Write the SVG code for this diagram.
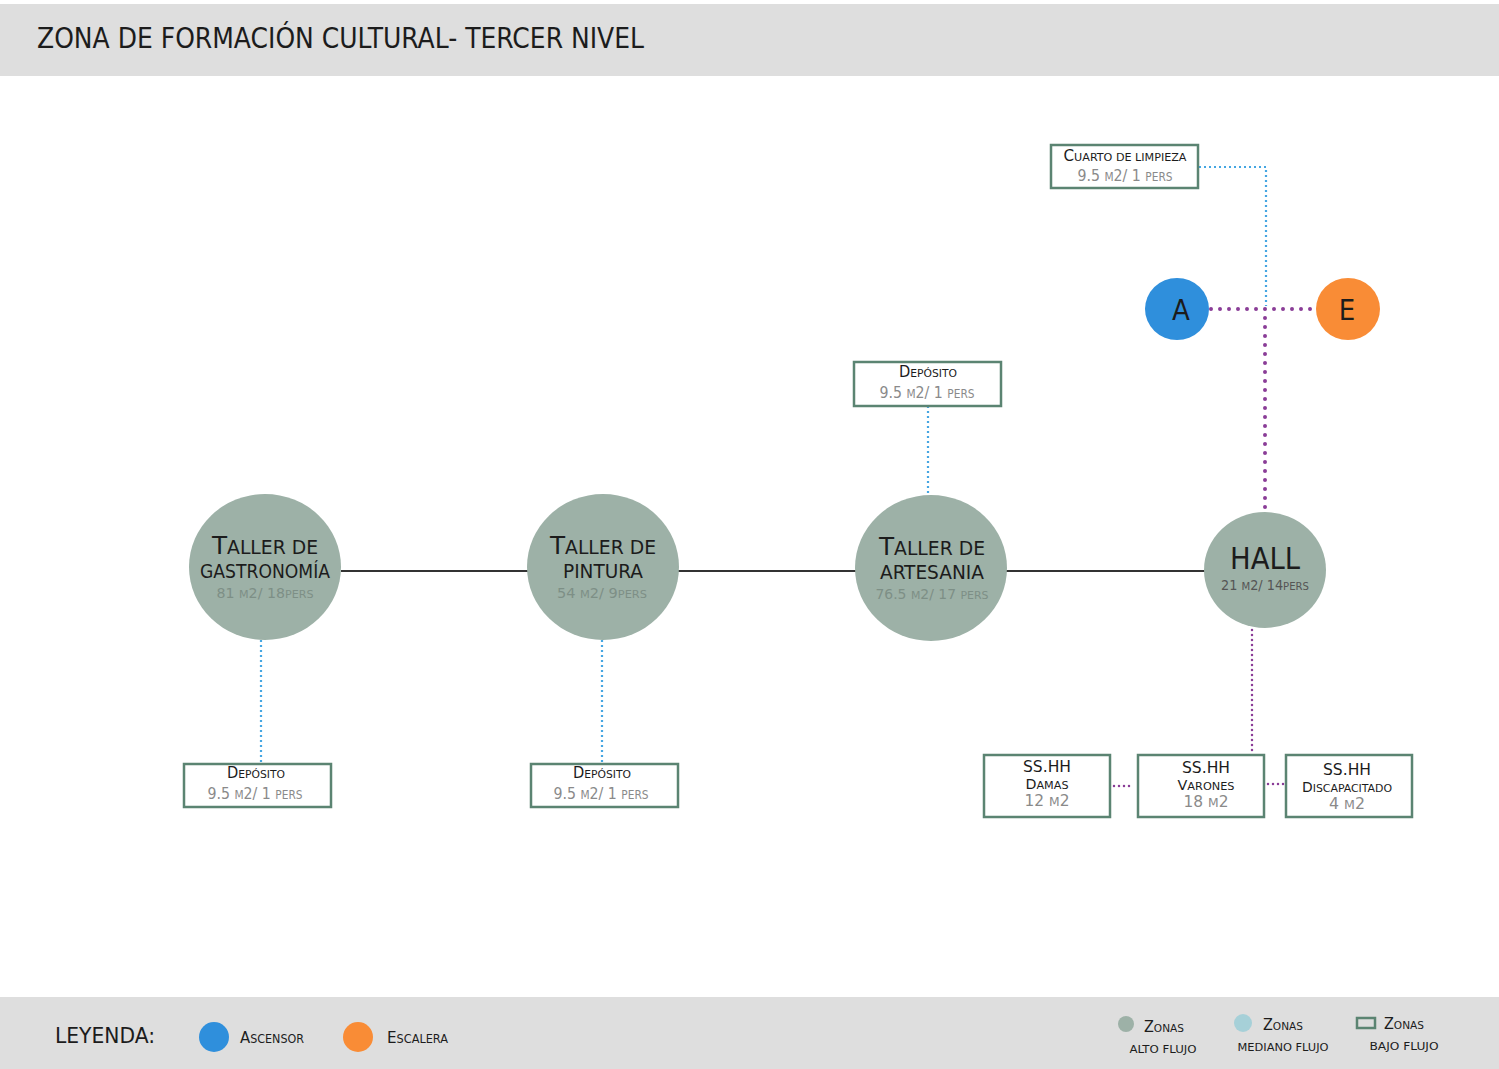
<svg xmlns="http://www.w3.org/2000/svg" width="1499" height="1069" viewBox="0 0 1499 1069">
<style>
text{font-family:"DejaVu Sans Condensed","DejaVu Sans","Liberation Sans",sans-serif;fill:#1c1c1c}
.band{fill:#dedede}
.zone{fill:#9db1a7}
.box{fill:#fff;stroke:#5b8472;stroke-width:2.5}
.main{stroke:#333;stroke-width:2;fill:none}
.blue{stroke:#45a6e2;stroke-width:2.2;stroke-dasharray:2 3;fill:none}
.purple{stroke:#8a3d97;stroke-width:4;stroke-linecap:round;stroke-dasharray:0 9;fill:none}
.purple2{stroke:#8a3d97;stroke-width:2.5;stroke-linecap:round;stroke-dasharray:0 5;fill:none}
.mid{text-anchor:middle}
.sub{fill:#7d8f86}
.grey{fill:#8a8a8a}
.hsub{fill:#555}
</style>
<rect class="band" x="0" y="4" width="1499" height="72"/>
<rect class="band" x="0" y="997" width="1499" height="72"/>
<text x="37" y="48" font-size="28" textLength="607" lengthAdjust="spacingAndGlyphs">ZONA DE FORMACIÓN CULTURAL- TERCER NIVEL</text>

<g id="connectors">
<line class="main" x1="341" y1="571" x2="1205" y2="571"/>
<line class="blue" x1="261" y1="640" x2="261" y2="763"/>
<line class="blue" x1="602" y1="640" x2="602" y2="763"/>
<line class="blue" x1="928" y1="406" x2="928" y2="495"/>
<polyline class="blue" points="1199,167 1266,167 1266,306"/>
<line class="purple" x1="1211" y1="309" x2="1314" y2="309"/>
<line class="purple" x1="1265" y1="318" x2="1265" y2="511"/>
<line class="purple2" x1="1252" y1="630" x2="1252" y2="753"/>
<line class="purple2" x1="1114" y1="786" x2="1134" y2="786"/>
<line class="purple2" x1="1268" y1="784" x2="1284" y2="784"/>
</g>

<g id="taller-gastronomia">
<ellipse class="zone" cx="265" cy="567" rx="76" ry="73"/>
<text class="mid" x="265" y="554" font-size="25" textLength="106" lengthAdjust="spacingAndGlyphs">T<tspan font-size="19">ALLER DE</tspan></text>
<text class="mid" x="265" y="578" font-size="20" textLength="130" lengthAdjust="spacingAndGlyphs">GASTRONOMÍA</text>
<text class="mid sub" x="265" y="598" font-size="14" textLength="97" lengthAdjust="spacingAndGlyphs">81 <tspan font-size="11">M</tspan>2/ 18<tspan font-size="11">PERS</tspan></text>
</g>

<g id="taller-pintura">
<ellipse class="zone" cx="603" cy="567" rx="76" ry="73"/>
<text class="mid" x="603" y="554" font-size="25" textLength="106" lengthAdjust="spacingAndGlyphs">T<tspan font-size="19">ALLER DE</tspan></text>
<text class="mid" x="603" y="578" font-size="20" textLength="80" lengthAdjust="spacingAndGlyphs">PINTURA</text>
<text class="mid sub" x="602" y="598" font-size="14" textLength="90" lengthAdjust="spacingAndGlyphs">54 <tspan font-size="11">M</tspan>2/ 9<tspan font-size="11">PERS</tspan></text>
</g>

<g id="taller-artesania">
<ellipse class="zone" cx="931" cy="568" rx="76" ry="73"/>
<text class="mid" x="932" y="555" font-size="25" textLength="106" lengthAdjust="spacingAndGlyphs">T<tspan font-size="19">ALLER DE</tspan></text>
<text class="mid" x="932" y="579" font-size="20" textLength="104" lengthAdjust="spacingAndGlyphs">ARTESANIA</text>
<text class="mid sub" x="932" y="599" font-size="14" textLength="113" lengthAdjust="spacingAndGlyphs">76.5 <tspan font-size="11">M</tspan>2/ 17 <tspan font-size="11">PERS</tspan></text>
</g>

<g id="hall">
<ellipse class="zone" cx="1265" cy="570" rx="61" ry="58"/>
<text class="mid" x="1265" y="569" font-size="30" textLength="70" lengthAdjust="spacingAndGlyphs">HALL</text>
<text class="mid hsub" x="1265" y="590" font-size="14" textLength="88" lengthAdjust="spacingAndGlyphs">21 <tspan font-size="11">M</tspan>2/ 14<tspan font-size="11">PERS</tspan></text>
</g>

<g id="ascensor">
<ellipse cx="1177" cy="309" rx="32" ry="31" fill="#2f8fdc"/>
<text class="mid" x="1181" y="320" font-size="29">A</text>
</g>
<g id="escalera">
<ellipse cx="1348" cy="309" rx="32" ry="31" fill="#f98c36"/>
<text class="mid" x="1347" y="320" font-size="29">E</text>
</g>

<g id="cuarto-limpieza">
<rect class="box" x="1051" y="145" width="147" height="43"/>
<text class="mid" x="1125" y="161" font-size="15" textLength="123" lengthAdjust="spacingAndGlyphs">C<tspan font-size="11">UARTO DE LIMPIEZA</tspan></text>
<text class="mid grey" x="1125" y="181" font-size="16" textLength="95" lengthAdjust="spacingAndGlyphs">9.5 <tspan font-size="12">M</tspan>2/ 1 <tspan font-size="12">PERS</tspan></text>
</g>

<g id="deposito-artesania">
<rect class="box" x="854" y="362" width="147" height="44"/>
<text class="mid" x="928" y="377" font-size="15" textLength="58" lengthAdjust="spacingAndGlyphs">D<tspan font-size="11">EPÓSITO</tspan></text>
<text class="mid grey" x="927" y="398" font-size="16" textLength="95" lengthAdjust="spacingAndGlyphs">9.5 <tspan font-size="12">M</tspan>2/ 1 <tspan font-size="12">PERS</tspan></text>
</g>

<g id="deposito-gastronomia">
<rect class="box" x="184" y="764" width="147" height="43"/>
<text class="mid" x="256" y="778" font-size="15" textLength="58" lengthAdjust="spacingAndGlyphs">D<tspan font-size="11">EPÓSITO</tspan></text>
<text class="mid grey" x="255" y="799" font-size="16" textLength="95" lengthAdjust="spacingAndGlyphs">9.5 <tspan font-size="12">M</tspan>2/ 1 <tspan font-size="12">PERS</tspan></text>
</g>

<g id="deposito-pintura">
<rect class="box" x="531" y="764" width="147" height="43"/>
<text class="mid" x="602" y="778" font-size="15" textLength="58" lengthAdjust="spacingAndGlyphs">D<tspan font-size="11">EPÓSITO</tspan></text>
<text class="mid grey" x="601" y="799" font-size="16" textLength="95" lengthAdjust="spacingAndGlyphs">9.5 <tspan font-size="12">M</tspan>2/ 1 <tspan font-size="12">PERS</tspan></text>
</g>

<g id="sshh-damas">
<rect class="box" x="984" y="755" width="126" height="62"/>
<text class="mid" x="1047" y="772" font-size="16" textLength="48" lengthAdjust="spacingAndGlyphs">SS.HH</text>
<text class="mid" x="1047" y="789" font-size="14" textLength="43" lengthAdjust="spacingAndGlyphs">D<tspan font-size="11">AMAS</tspan></text>
<text class="mid grey" x="1047" y="806" font-size="15" textLength="45" lengthAdjust="spacingAndGlyphs">12 <tspan font-size="12">M</tspan>2</text>
</g>

<g id="sshh-varones">
<rect class="box" x="1138" y="755" width="126" height="62"/>
<text class="mid" x="1206" y="773" font-size="16" textLength="48" lengthAdjust="spacingAndGlyphs">SS.HH</text>
<text class="mid" x="1206" y="790" font-size="14" textLength="57" lengthAdjust="spacingAndGlyphs">V<tspan font-size="11">ARONES</tspan></text>
<text class="mid grey" x="1206" y="807" font-size="15" textLength="45" lengthAdjust="spacingAndGlyphs">18 <tspan font-size="12">M</tspan>2</text>
</g>

<g id="sshh-discapacitado">
<rect class="box" x="1286" y="755" width="126" height="62"/>
<text class="mid" x="1347" y="775" font-size="16" textLength="48" lengthAdjust="spacingAndGlyphs">SS.HH</text>
<text class="mid" x="1347" y="792" font-size="14" textLength="90" lengthAdjust="spacingAndGlyphs">D<tspan font-size="11">ISCAPACITADO</tspan></text>
<text class="mid grey" x="1347" y="809" font-size="15" textLength="36" lengthAdjust="spacingAndGlyphs">4 <tspan font-size="12">M</tspan>2</text>
</g>

<g id="leyenda">
<text x="55" y="1043" font-size="22" textLength="100" lengthAdjust="spacingAndGlyphs">LEYENDA:</text>
<circle cx="214" cy="1037" r="15" fill="#2f8fdc"/>
<text x="240" y="1043" font-size="16" textLength="64" lengthAdjust="spacingAndGlyphs">A<tspan font-size="12">SCENSOR</tspan></text>
<circle cx="358" cy="1037" r="15" fill="#f98c36"/>
<text x="387" y="1043" font-size="16" textLength="61" lengthAdjust="spacingAndGlyphs">E<tspan font-size="12">SCALERA</tspan></text>
<circle cx="1126" cy="1024" r="8" fill="#9db1a7"/>
<text x="1144" y="1032" font-size="15" textLength="40" lengthAdjust="spacingAndGlyphs">Z<tspan font-size="11">ONAS</tspan></text>
<text class="mid" x="1163" y="1053" font-size="11" textLength="67" lengthAdjust="spacingAndGlyphs">ALTO FLUJO</text>
<circle cx="1243" cy="1023" r="9" fill="#a6d0d8"/>
<text x="1263" y="1030" font-size="15" textLength="40" lengthAdjust="spacingAndGlyphs">Z<tspan font-size="11">ONAS</tspan></text>
<text class="mid" x="1283" y="1051" font-size="11" textLength="91" lengthAdjust="spacingAndGlyphs">MEDIANO FLUJO</text>
<rect x="1357" y="1018" width="18" height="10" fill="none" stroke="#5b8472" stroke-width="2.5"/>
<text x="1384" y="1029" font-size="15" textLength="40" lengthAdjust="spacingAndGlyphs">Z<tspan font-size="11">ONAS</tspan></text>
<text class="mid" x="1404" y="1050" font-size="11" textLength="69" lengthAdjust="spacingAndGlyphs">BAJO FLUJO</text>
</g>
</svg>
